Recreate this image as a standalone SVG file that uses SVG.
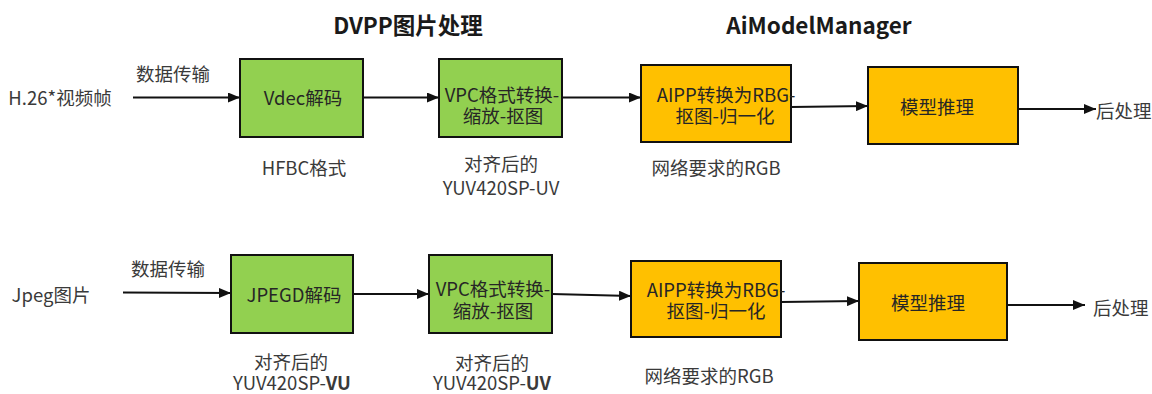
<svg xmlns="http://www.w3.org/2000/svg" width="1152" height="394" viewBox="0 0 1152 394">
  <style>
    text { font-family: "Noto Sans CJK SC", "Noto Sans", sans-serif; font-size: 18.5px; fill: #262626; dominant-baseline: central; }
    .mid { text-anchor: middle; }
    .title { font-size: 22.5px; font-weight: bold; fill: #1a1a1a; }
    .label { fill: #3a3a3a; }
    .green { fill: #92D050; stroke: #111; stroke-width: 2; }
    .orange { fill: #FFC000; stroke: #111; stroke-width: 2; }
    .conn { stroke: #111; stroke-width: 2; fill: none; marker-end: url(#arrow); }
  </style>
  <defs>
    <marker id="arrow" viewBox="0 0 12 10" refX="12" refY="5" markerWidth="12" markerHeight="10" markerUnits="userSpaceOnUse" orient="auto">
      <path d="M0,0 L12,5 L0,10 Z" fill="#111"/>
    </marker>
  </defs>
  <rect width="1152" height="394" fill="#fff"/>

  <!-- section titles -->
  <text class="title mid" x="408" y="24">DVPP图片处理</text>
  <text class="title mid" x="819" y="24">AiModelManager</text>

  <!-- connectors -->
  <g id="connectors">
    <line class="conn" x1="133" y1="97.5" x2="240" y2="97.5"/>
    <line class="conn" x1="363" y1="97.5" x2="439" y2="97.5"/>
    <line class="conn" x1="562" y1="97.5" x2="641" y2="97.5"/>
    <line class="conn" x1="791" y1="107" x2="868" y2="106"/>
    <line class="conn" x1="1018" y1="109" x2="1096" y2="109"/>

    <line class="conn" x1="123" y1="292.5" x2="231" y2="293"/>
    <line class="conn" x1="353" y1="294" x2="429" y2="294"/>
    <line class="conn" x1="552" y1="294" x2="631" y2="296"/>
    <line class="conn" x1="781" y1="302" x2="859" y2="301"/>
    <line class="conn" x1="1007" y1="305" x2="1085" y2="305"/>
  </g>

  <!-- top row: H.26x video path -->
  <g id="src-video">
    <text class="label mid" x="60" y="97">H.26*视频帧</text>
    <text class="label mid" x="173" y="73">数据传输</text>
  </g>
  <g id="vdec">
    <rect class="green" x="240" y="59" width="123" height="78"/>
    <text class="mid" x="303" y="97">Vdec解码</text>
    <text class="label mid" x="304" y="167">HFBC格式</text>
  </g>
  <g id="vpc-top">
    <rect class="green" x="439" y="59" width="123" height="78"/>
    <text class="mid" x="502" y="94">VPC格式转换-</text>
    <text class="mid" x="503" y="115">缩放-抠图</text>
    <text class="label mid" x="501" y="163">对齐后的</text>
    <text class="label mid" x="501" y="187">YUV420SP-UV</text>
  </g>
  <g id="aipp-top">
    <rect class="orange" x="641" y="65" width="150" height="77"/>
    <text class="mid" x="726" y="94">AIPP转换为RBG-</text>
    <text class="mid" x="725" y="115">抠图-归一化</text>
    <text class="label mid" x="716" y="167">网络要求的RGB</text>
  </g>
  <g id="infer-top">
    <rect class="orange" x="868" y="67" width="150" height="77"/>
    <text class="mid" x="937" y="106">模型推理</text>
  </g>
  <g id="post-top">
    <text class="label" x="1096" y="110">后处理</text>
  </g>

  <!-- bottom row: JPEG image path -->
  <g id="src-jpeg">
    <text class="label mid" x="51" y="294">Jpeg图片</text>
    <text class="label mid" x="168" y="268">数据传输</text>
  </g>
  <g id="jpegd">
    <rect class="green" x="231" y="255" width="122" height="78"/>
    <text class="mid" x="294" y="294">JPEGD解码</text>
    <text class="label mid" x="291" y="361">对齐后的</text>
    <text class="label mid" x="292" y="382">YUV420SP-<tspan font-weight="bold">VU</tspan></text>
  </g>
  <g id="vpc-bottom">
    <rect class="green" x="429" y="255" width="123" height="78"/>
    <text class="mid" x="493" y="288">VPC格式转换-</text>
    <text class="mid" x="493" y="310">缩放-抠图</text>
    <text class="label mid" x="492" y="362">对齐后的</text>
    <text class="label mid" x="492" y="382">YUV420SP-<tspan font-weight="bold">UV</tspan></text>
  </g>
  <g id="aipp-bottom">
    <rect class="orange" x="631" y="261" width="150" height="76"/>
    <text class="mid" x="716" y="289">AIPP转换为RBG-</text>
    <text class="mid" x="716" y="310">抠图-归一化</text>
    <text class="label mid" x="709" y="375">网络要求的RGB</text>
  </g>
  <g id="infer-bottom">
    <rect class="orange" x="859" y="263" width="148" height="77"/>
    <text class="mid" x="928" y="302">模型推理</text>
  </g>
  <g id="post-bottom">
    <text class="label" x="1093" y="307">后处理</text>
  </g>
</svg>
